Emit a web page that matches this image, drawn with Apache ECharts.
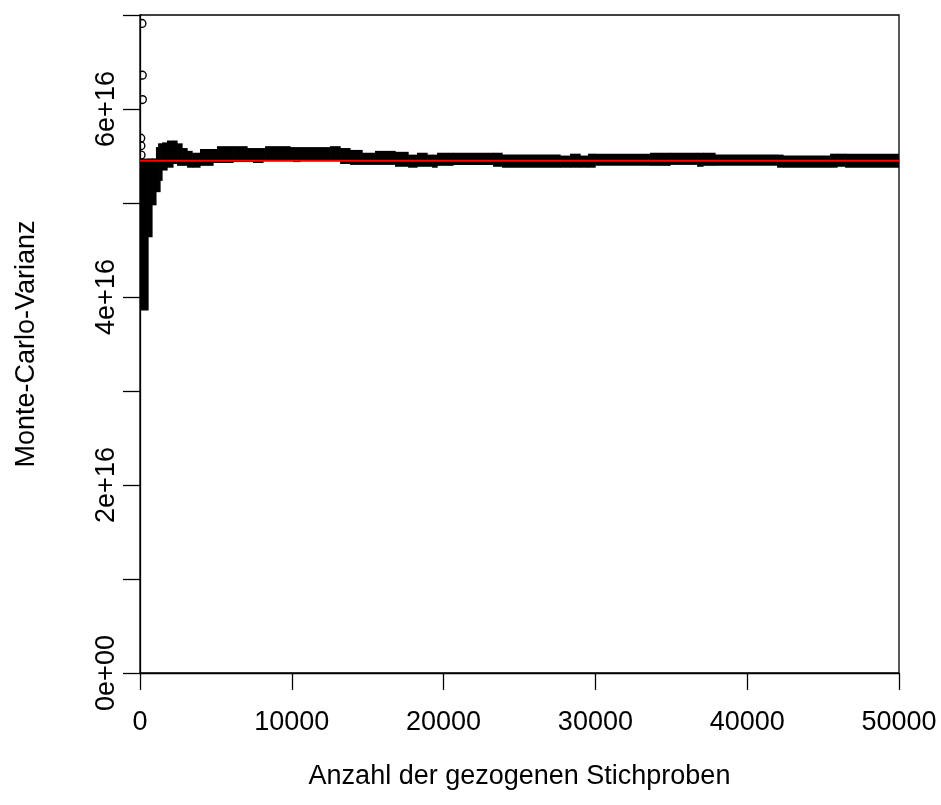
<!DOCTYPE html>
<html>
<head>
<meta charset="utf-8">
<script src="https://cdn.jsdelivr.net/npm/echarts@6/dist/echarts.min.js"></script>
<style>
  html, body { margin: 0; padding: 0; background: #ffffff; }
  #chart { width: 941px; height: 805px; }
</style>
</head>
<body>
<div id="chart"></div>
<script>
// Running Monte-Carlo variance estimate vs. number of drawn samples.
// Each stretch of samples is summarised by the lowest and highest value
// the running estimate takes inside it.
const stretchStart = [
  0, 530, 790, 1050, 1190, 1320, 1450, 1780, 2170, 2440,
  2770, 3100, 3430, 3950, 4810, 5070, 6130, 7050, 7440, 8100,
  8240, 9880, 10080, 10540, 12520, 13180, 13830, 14630, 15480, 16800,
  17660, 18250, 18910, 19240, 19570, 20620, 23260, 23850, 27670, 28330,
  28990, 29510, 29980, 33600, 34920, 36700, 37090, 37880, 41970, 42360,
  45460, 45920, 46450
];
const stretchLow = [
  3.90e16, 4.68e16, 5.02e16, 5.16e16, 5.16e16, 5.28e16, 5.39e16, 5.42e16, 5.46e16, 5.44e16,
  5.44e16, 5.42e16, 5.42e16, 5.44e16, 5.47e16, 5.47e16, 5.48e16, 5.48e16, 5.47e16, 5.49e16,
  5.49e16, 5.49e16, 5.48e16, 5.49e16, 5.49e16, 5.46e16, 5.45e16, 5.45e16, 5.45e16, 5.43e16,
  5.42e16, 5.43e16, 5.43e16, 5.42e16, 5.44e16, 5.45e16, 5.43e16, 5.42e16, 5.42e16, 5.42e16,
  5.42e16, 5.42e16, 5.44e16, 5.44e16, 5.45e16, 5.43e16, 5.44e16, 5.44e16, 5.42e16, 5.42e16,
  5.42e16, 5.43e16, 5.42e16
];
const stretchHigh = [
  5.43e16, 5.43e16, 5.43e16, 5.55e16, 5.59e16, 5.59e16, 5.60e16, 5.62e16, 5.62e16, 5.59e16,
  5.54e16, 5.51e16, 5.49e16, 5.53e16, 5.53e16, 5.56e16, 5.56e16, 5.54e16, 5.54e16, 5.54e16,
  5.56e16, 5.55e16, 5.55e16, 5.55e16, 5.56e16, 5.54e16, 5.52e16, 5.49e16, 5.51e16, 5.50e16,
  5.47e16, 5.49e16, 5.47e16, 5.47e16, 5.49e16, 5.49e16, 5.49e16, 5.47e16, 5.46e16, 5.48e16,
  5.46e16, 5.48e16, 5.48e16, 5.49e16, 5.49e16, 5.49e16, 5.49e16, 5.47e16, 5.47e16, 5.46e16,
  5.48e16, 5.48e16, 5.48e16
];
const totalSamples = 50000;

// Individual estimates from the very first draws that stand apart from the band
const earlyN   = [130, 150, 160, 50, 60, 70];
const earlyVar = [6.91e16, 6.36e16, 6.10e16, 5.69e16, 5.61e16, 5.51e16];

// Reference value of the variance (horizontal red line)
const trueVariance = 5.45e16;

// Axis ticks and labels
const xTicks = [0, 10000, 20000, 30000, 40000, 50000];
const yTickStep = 1e16;
const yMax = 7e16;
const yLabelValues = [0, 2e16, 4e16, 6e16];
const yLabelTexts = ['0e+00', '2e+16', '4e+16', '6e+16'];

const FONT = '"Liberation Sans", Arial, Helvetica, sans-serif';
const POINT_R = 4.2;   // radius of a plotted point in pixels

const bandData = stretchStart.map((s, i) => [
  s,
  i + 1 < stretchStart.length ? stretchStart[i + 1] : totalSamples,
  stretchLow[i],
  stretchHigh[i]
]);
const earlyData = earlyN.map((n, i) => [n, earlyVar[i]]);

const chart = echarts.init(document.getElementById('chart'), null, { renderer: 'canvas' });

chart.setOption({
  animation: false,
  backgroundColor: '#ffffff',
  grid: {
    left: 140, right: 42, top: 15, bottom: 132,
    show: true, borderColor: '#000', borderWidth: 1.3, backgroundColor: 'transparent'
  },
  xAxis: {
    type: 'value',
    min: xTicks[0], max: xTicks[xTicks.length - 1],
    interval: xTicks[1] - xTicks[0],
    axisLine: { show: true, onZero: false, lineStyle: { color: '#000', width: 1.3 } },
    axisTick: { show: true, length: 17, lineStyle: { color: '#000', width: 1.3 } },
    axisLabel: { color: '#000', fontSize: 27, fontFamily: FONT, margin: 36,
                 formatter: v => String(v) },
    splitLine: { show: false },
    name: 'Anzahl der gezogenen Stichproben',
    nameLocation: 'middle', nameGap: 90,
    nameTextStyle: { color: '#000', fontSize: 27, fontFamily: FONT }
  },
  yAxis: {
    type: 'value',
    min: 0, max: yMax, interval: yTickStep,
    axisLine: { show: true, onZero: false, lineStyle: { color: '#000', width: 1.3 } },
    axisTick: { show: true, length: 17, lineStyle: { color: '#000', width: 1.3 } },
    axisLabel: {
      color: '#000', fontSize: 27, fontFamily: FONT, rotate: 90, margin: 20,
      showMaxLabel: true,
      formatter: v => {
        const k = yLabelValues.findIndex(t => Math.abs(t - v) < 1e10);
        return k >= 0 ? yLabelTexts[k] : '';
      }
    },
    splitLine: { show: false },
    name: 'Monte-Carlo-Varianz',
    nameLocation: 'middle', nameGap: 100,
    nameTextStyle: { color: '#000', fontSize: 27, fontFamily: FONT }
  },
  series: [
    {
      // dense band of overlapping points
      type: 'custom',
      clip: true,
      z: 2,
      data: bandData,
      encode: { x: [0, 1], y: [2, 3] },
      renderItem: (params, api) => {
        const top = api.coord([api.value(0), api.value(3)]);
        const bot = api.coord([api.value(1), api.value(2)]);
        return {
          type: 'rect',
          shape: {
            x: top[0],
            y: top[1] - POINT_R,
            width: bot[0] - top[0] + 0.6,
            height: bot[1] - top[1] + 2 * POINT_R
          },
          style: { fill: '#000' }
        };
      }
    },
    {
      // single open circles from the first draws
      type: 'custom',
      clip: true,
      z: 3,
      data: earlyData,
      encode: { x: 0, y: 1 },
      renderItem: (params, api) => {
        const p = api.coord([api.value(0), api.value(1)]);
        return {
          type: 'circle',
          shape: { cx: p[0], cy: p[1], r: POINT_R - 0.3 },
          style: { fill: 'none', stroke: '#000', lineWidth: 1.4 }
        };
      }
    },
    {
      type: 'line',
      z: 4,
      symbol: 'none',
      silent: true,
      data: [[0, trueVariance], [totalSamples, trueVariance]],
      lineStyle: { color: '#ff0000', width: 2 }
    }
  ]
});
</script>
</body>
</html>
